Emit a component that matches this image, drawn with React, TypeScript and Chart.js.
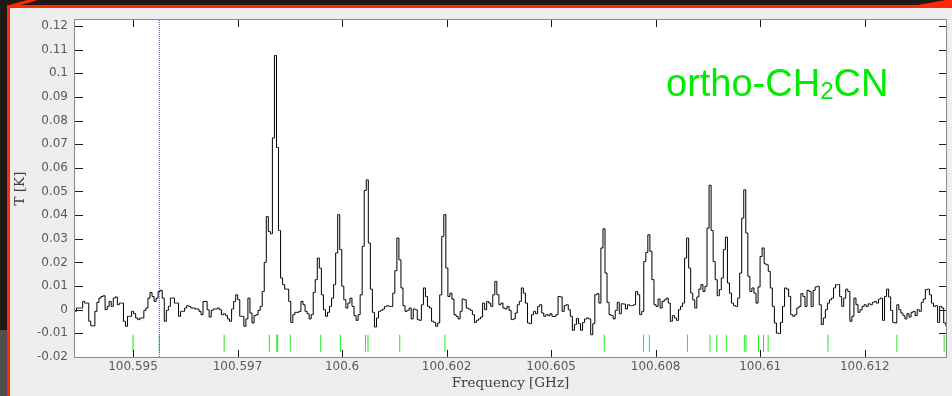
import React, { useEffect, useRef } from "react";
import { Chart, registerables } from "chart.js";

Chart.register(...registerables);

// ---- spectral axis (channels) ----
const CHANNEL_START_GHZ = 100.593625;
const CHANNEL_WIDTH_GHZ = 0.0000488;

// ---- brightness temperature per channel [K] ----
const T_SEG1 = [
  -0.0007, 0.0007, 0.0007, 0.0007, 0.0035, 0.0028, 0.0028, -0.0049, -0.0068, -0.0068,
  -0.0007, 0.0031, 0.0049, 0.0056, 0.0059, 0.0, 0.0014, 0.0035, 0.0014, 0.0049,
  0.0054, 0.0021, 0.0028, 0.0028, -0.0049, -0.007, -0.0028, -0.0028, -0.0007, -0.0017,
  -0.0035, -0.0042, -0.0035, -0.0035, -0.0003, 0.0007, 0.0049, 0.0073, 0.0056, 0.0035,
  0.0049, 0.0077, 0.0082, 0.0049, -0.0049, -0.0003, 0.0014, 0.0049, 0.0049, 0.0028,
  0.0028, -0.0028, -0.0007, -0.0007, 0.0007, 0.0017, 0.0014, 0.0007, 0.0007, 0.0003,
  0.0003, -0.0007, -0.0021, 0.0035, 0.0035, 0.0, -0.0031, -0.0003, 0.0003, 0.0003,
  0.0007, 0.0, -0.0021, -0.0017, -0.0025, -0.0039, -0.0049, 0.0003, 0.0035, 0.0063,
  0.0042, -0.0028, -0.0028, -0.007, -0.0039, 0.0049,
];
const T_SEG2 = [
  -0.0014, -0.0056, -0.0025, -0.0021, -0.0003, 0.0014, 0.0077, 0.02, 0.0394, 0.0331,
  0.0321, 0.0726, 0.1075, 0.0686, 0.0335, 0.0134, 0.0106, 0.0087, 0.0087, 0.0035,
  -0.0054, -0.0021, -0.0011, -0.0011, -0.0007, 0.0035, 0.0021, -0.0007, -0.0017, -0.0039,
  -0.0021, 0.0073, 0.0127, 0.0218, 0.0176, 0.0063, 0.0, -0.0028, -0.0011, 0.0014,
  0.0049, 0.0106, 0.024, 0.0402, 0.0254, 0.0099, 0.0042, 0.0007, 0.0028, 0.0049,
  0.0014, -0.0025, -0.0045, -0.0021, 0.0063, 0.0268, 0.0504, 0.0549, 0.0282, 0.0087,
  -0.0011, -0.0073, -0.0035, -0.0007, -0.0003, 0.0003, 0.0014, 0.0017, 0.0014, 0.0014,
  0.007, 0.0165, 0.0303, 0.0211, 0.0092, 0.0017, -0.0007, -0.0003, 0.0007, -0.0039,
  0.0003, 0.0, -0.0042, -0.0045, 0.0021,
];
const T_SEG3 = [
  0.0092, 0.0056, 0.0014, 0.0007, -0.0049, -0.0054, -0.007, -0.0056, 0.0063, 0.031,
  0.0402, 0.0176, 0.0056, 0.007, 0.0045, -0.0021, -0.0028, -0.0039, -0.0007, 0.0045,
  0.0042, 0.0007, 0.0003, -0.0003, -0.0021, -0.0054, -0.0045, -0.0039, -0.0031, 0.0028,
  0.0, 0.0035, 0.0028, 0.0014, 0.0063, 0.012, 0.0063, 0.0021, 0.0028, 0.0007,
  0.0003, 0.0014, -0.0003, -0.0042, -0.0039, -0.0014, 0.0021, 0.0035, 0.0092, 0.007,
  0.0028, -0.0056, -0.0059, -0.0021, -0.0007, -0.0017, 0.0014, 0.0021, -0.0014, -0.0028,
  -0.0021, -0.0025, -0.0017, -0.0028, -0.0028, -0.0021, 0.0056, 0.0054, -0.0007, 0.0017,
  0.0021, 0.0, -0.0028, -0.0087, -0.0063, -0.0037, -0.0059, -0.0087, -0.0054, -0.0039,
  -0.0035, -0.0039, -0.0106, -0.0059, 0.0063, 0.0068,
];
const T_SEG4 = [
  0.0028, 0.0261, 0.0342, 0.0155, 0.0031, -0.0021, -0.0025, -0.0039, -0.0003, 0.0031,
  -0.0017, 0.0025, 0.0024, 0.0003, 0.0021, 0.0017, 0.0017, 0.0021, 0.0077, 0.0063,
  -0.0021, -0.0007, 0.0204, 0.0242, 0.0317, 0.0247, 0.0127, 0.0021, 0.0014, 0.0045,
  0.0007, 0.0035, 0.0042, 0.0049, 0.0028, -0.0049, -0.0025, -0.0035, -0.0045, 0.0,
  0.0014, 0.0028, 0.0218, 0.0303, 0.0176, 0.007, 0.0042, 0.0007, 0.0054, 0.0087,
  0.0106, 0.0077, 0.0099, 0.0345, 0.0526, 0.0335, 0.0204, 0.0127, 0.0059, 0.0085,
  0.0134, 0.0254, 0.0307, 0.0113, 0.007, 0.0028, 0.0017, 0.0014, 0.0049, 0.0155,
  0.0387, 0.0507, 0.0324, 0.0141, 0.0077, 0.0092, 0.007, 0.0028, 0.0096, 0.0225,
  0.0261, 0.0194, 0.019, 0.0162, 0.0092,
];
const T_SEG5 = [
  0.0014, -0.0056, -0.0099, -0.0101, -0.0054, 0.0014, 0.0092, 0.0087, 0.0056, -0.0021,
  -0.0028, -0.0021, 0.0007, 0.0014, 0.0068, 0.0056, 0.0014, 0.0082, 0.0077, 0.0014,
  0.0082, 0.0096, 0.0099, 0.0021, -0.0063, -0.0035, 0.0, 0.0028, 0.0042, 0.0049,
  0.0092, 0.0106, 0.0106, 0.0056, 0.0014, 0.0049, 0.0087, 0.0077, -0.0049, -0.0028,
  0.0049, 0.0021, -0.0011, 0.0, 0.0014, 0.0021, 0.0014, 0.0025, 0.0021, 0.0031,
  0.0035, 0.0028, 0.0045, 0.0049, -0.0045, 0.0056, 0.0087, 0.0054, -0.0003, -0.0054,
  -0.0056, 0.0021, 0.0, -0.0014, -0.0025, -0.0039, -0.0017, -0.0031, -0.0011, -0.0007,
  -0.0025, 0.0, -0.0007, 0.0031, 0.0045, 0.0085, 0.0087, 0.0063, 0.0028, 0.0014,
  0.0017, -0.0054, 0.0014, 0.0007, -0.0056, -0.0068,
];

// ---- catalogue line positions (green markers) [GHz] ----
const LINE_FREQS = [
  100.595, 100.59563, 100.59718, 100.59826, 100.59844, 100.59846, 100.59876,
  100.59949, 100.59996, 100.60056, 100.60062, 100.60138, 100.60246, 100.60627,
  100.60721, 100.60735, 100.60826, 100.6088, 100.60896, 100.60919, 100.60962,
  100.60966, 100.60996, 100.61008, 100.61019, 100.61162, 100.61327, 100.6144,
];
const MARKER_LOW = -0.0178;
const MARKER_HIGH = -0.0106;

// ---- blue dotted reference frequency ----
const REF_FREQ = 100.59563;

// ---- axes ----
const X_MIN = 100.593613;
const X_MAX = 100.614444;
const Y_MIN = -0.02;
const Y_MAX = 0.1225;
const X_TICK_VALUES = [100.595, 100.5975, 100.6, 100.6025, 100.605, 100.6075, 100.61, 100.6125];
const X_TICK_LABELS = ["100.595", "100.597", "100.6", "100.602", "100.605", "100.608", "100.61", "100.612"];
const Y_TICK_VALUES = [-0.02, -0.01, 0, 0.01, 0.02, 0.03, 0.04, 0.05, 0.06, 0.07, 0.08, 0.09, 0.1, 0.11, 0.12];
const Y_TICK_LABELS = ["-0.02", "-0.01", "0", "0.01", "0.02", "0.03", "0.04", "0.05", "0.06", "0.07", "0.08", "0.09", "0.1", "0.11", "0.12"];

const LABEL_MAIN = "ortho-CH";
const LABEL_SUB = "2";
const LABEL_TAIL = "CN";

const T_K = [...T_SEG1, ...T_SEG2, ...T_SEG3, ...T_SEG4, ...T_SEG5];
const FREQ_GHZ = T_K.map((_, i) => CHANNEL_START_GHZ + i * CHANNEL_WIDTH_GHZ);

const GREEN = "rgb(0,236,0)";

const framePlugin = {
  id: "frameAndTicks",
  beforeDraw(chart: any) {
    const { ctx, chartArea: a } = chart;
    ctx.save();
    ctx.fillStyle = "#ffffff";
    ctx.fillRect(a.left, a.top, a.right - a.left, a.bottom - a.top);
    ctx.restore();
  },
  afterDraw(chart: any) {
    const { ctx, chartArea: a, scales } = chart;
    ctx.save();
    // species label
    ctx.fillStyle = GREEN;
    ctx.textAlign = "left";
    ctx.textBaseline = "alphabetic";
    let x = a.left + 591;
    const y = a.top + 75.5;
    ctx.font = '38px "Liberation Sans", Arial, sans-serif';
    ctx.fillText(LABEL_MAIN, x, y);
    x += ctx.measureText(LABEL_MAIN).width;
    ctx.font = '24px "Liberation Sans", Arial, sans-serif';
    ctx.fillText(LABEL_SUB, x, y + 3);
    x += ctx.measureText(LABEL_SUB).width;
    ctx.font = '38px "Liberation Sans", Arial, sans-serif';
    ctx.fillText(LABEL_TAIL, x, y);

    // inward tick marks on all four sides
    ctx.strokeStyle = "#1a1a1a";
    ctx.lineWidth = 1;
    ctx.beginPath();
    for (const v of X_TICK_VALUES) {
      const px = Math.round(scales.x.getPixelForValue(v)) + 0.5;
      ctx.moveTo(px, a.top);
      ctx.lineTo(px, a.top + 7);
      ctx.moveTo(px, a.bottom);
      ctx.lineTo(px, a.bottom - 7);
    }
    for (const v of Y_TICK_VALUES) {
      const py = Math.round(scales.y.getPixelForValue(v)) + 0.5;
      ctx.moveTo(a.left, py);
      ctx.lineTo(a.left + 8, py);
      ctx.moveTo(a.right, py);
      ctx.lineTo(a.right - 7, py);
    }
    ctx.stroke();

    // frame
    ctx.strokeStyle = "#8a8a8a";
    ctx.strokeRect(a.left - 0.5, a.top - 0.5, a.right - a.left + 1, a.bottom - a.top + 1);
    ctx.restore();
  },
};

export default function App() {
  const canvasRef = useRef<HTMLCanvasElement | null>(null);

  useEffect(() => {
    if (!canvasRef.current) return;
    const spectrum = FREQ_GHZ.map((f, i) => ({ x: f, y: T_K[i] }));
    const markers: { x: number; y: number | null }[] = [];
    LINE_FREQS.forEach((f) => {
      markers.push({ x: f, y: MARKER_LOW }, { x: f, y: MARKER_HIGH }, { x: f, y: null });
    });
    const refLine = [
      { x: REF_FREQ, y: Y_MIN },
      { x: REF_FREQ, y: Y_MAX },
    ];

    const chart = new Chart(canvasRef.current, {
      type: "line",
      data: {
        datasets: [
          {
            label: "spectrum",
            data: spectrum,
            borderColor: "#000000",
            borderWidth: 1,
            stepped: "middle",
            pointRadius: 0,
            fill: false,
            order: 1,
          } as any,
          {
            label: "lines",
            data: markers,
            borderColor: "rgb(30,235,30)",
            borderWidth: 1,
            pointRadius: 0,
            spanGaps: false,
            fill: false,
            order: 2,
          } as any,
          {
            label: "ref",
            data: refLine,
            borderColor: "#2f4dff",
            borderWidth: 1,
            borderDash: [1, 1],
            pointRadius: 0,
            fill: false,
            order: 0,
          } as any,
        ],
      },
      options: {
        responsive: false,
        animation: false,
        devicePixelRatio: 1,
        events: [],
        layout: { padding: { left: 0, top: 20, right: 6, bottom: 0 } },
        plugins: {
          legend: { display: false },
          tooltip: { enabled: false },
        },
        scales: {
          x: {
            type: "linear",
            position: "bottom",
            min: X_MIN,
            max: X_MAX,
            grid: { display: false, drawTicks: false },
            border: { display: false },
            afterBuildTicks: (s: any) => {
              s.ticks = X_TICK_VALUES.map((v) => ({ value: v }));
            },
            afterFit: (s: any) => {
              s.height = 39;
            },
            ticks: {
              autoSkip: false,
              maxRotation: 0,
              minRotation: 0,
              padding: 3,
              color: "#5a5a5a",
              font: { family: '"DejaVu Sans", sans-serif', size: 12 },
              callback: (_v: any, i: number) => X_TICK_LABELS[i],
            },
            title: {
              display: true,
              text: "Frequency [GHz]",
              color: "#404040",
              font: { family: '"DejaVu Serif", serif', size: 13.5 },
              padding: { top: 0, bottom: 4 },
            },
          },
          y: {
            type: "linear",
            position: "left",
            min: Y_MIN,
            max: Y_MAX,
            grid: { display: false, drawTicks: false },
            border: { display: false },
            afterBuildTicks: (s: any) => {
              s.ticks = Y_TICK_VALUES.map((v) => ({ value: v }));
            },
            afterFit: (s: any) => {
              s.width = 75;
            },
            ticks: {
              autoSkip: false,
              padding: 7,
              color: "#5a5a5a",
              font: { family: '"DejaVu Sans", sans-serif', size: 12 },
              callback: (_v: any, i: number) => Y_TICK_LABELS[i],
            },
            title: {
              display: true,
              text: "T [K]",
              color: "#404040",
              font: { family: '"DejaVu Serif", serif', size: 13.5 },
              padding: { top: 12.5, bottom: 0 },
            },
          },
        },
      } as any,
      plugins: [framePlugin],
    });
    return () => chart.destroy();
  }, []);

  return (
    <div style={{ position: "fixed", left: 0, top: 0, width: 952, height: 396, overflow: "hidden" }}>
      <svg width={952} height={396} style={{ position: "absolute", left: 0, top: 0 }}>
        <rect x={0} y={0} width={952} height={396} fill="#1f1913" />
        <rect x={0} y={330} width={8} height={66} fill="#4f4f4f" />
        <rect x={7} y={5} width={945} height={391} fill="#ff2a05" />
        <line x1={8} y1={7} x2={36} y2={-1} stroke="#ff2a05" strokeWidth={3} />
        <polygon points="912,6 952,-1 952,6" fill="#ff2a05" />
        <rect x={10} y={8} width={942} height={388} fill="#eeeeee" />
      </svg>
      <canvas
        ref={canvasRef}
        width={952}
        height={396}
        style={{ position: "absolute", left: 0, top: 0, width: 952, height: 396 }}
      />
    </div>
  );
}
